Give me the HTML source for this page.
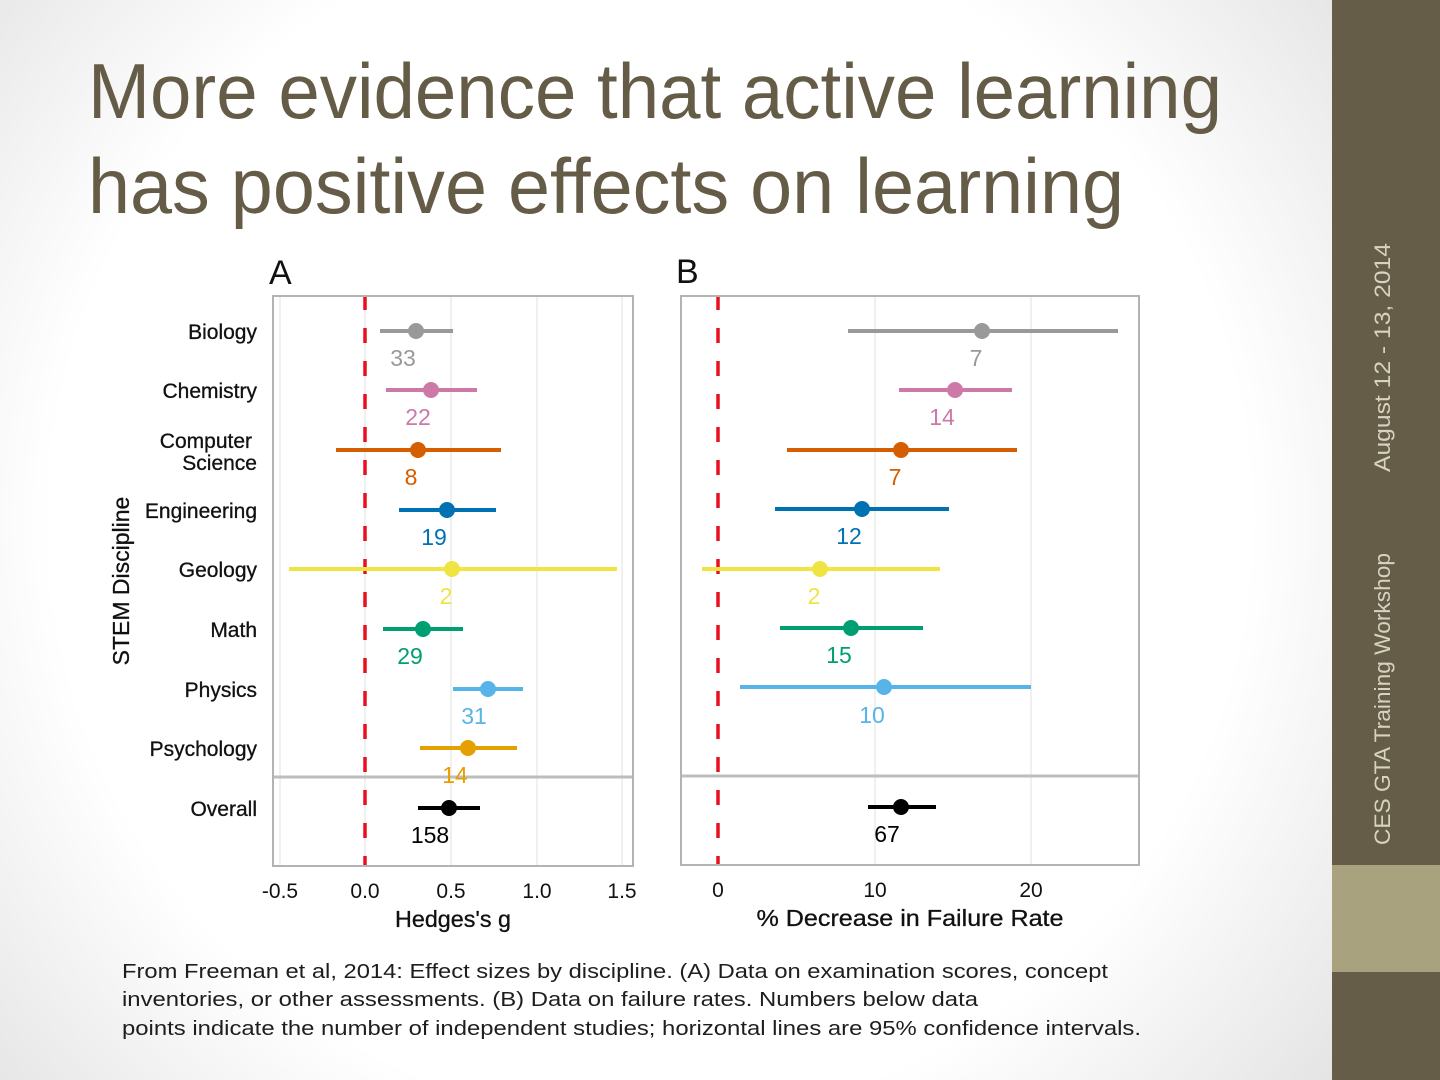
<!DOCTYPE html>
<html><head><meta charset="utf-8"><style>
html,body{margin:0;padding:0;width:1440px;height:1080px;overflow:hidden;}
svg{display:block}
</style></head><body>
<svg width="1440" height="1080" viewBox="0 0 1440 1080" xmlns="http://www.w3.org/2000/svg">
<defs>
<radialGradient id="bg" cx="650" cy="520" r="1000" gradientUnits="userSpaceOnUse">
<stop offset="0" stop-color="#ffffff"/>
<stop offset="0.6" stop-color="#ffffff"/>
<stop offset="1" stop-color="#d9d9d9"/>
</radialGradient>
</defs>
<rect width="1440" height="1080" fill="url(#bg)"/>
<!-- sidebar -->
<rect x="1332" y="0" width="108" height="1080" fill="#655d48"/>
<rect x="1332" y="865" width="108" height="107" fill="#a8a37e"/>
<g font-family="Liberation Sans, sans-serif" font-size="22" fill="#d8d3c0">
<text transform="translate(1390,472) rotate(-90)" textLength="229" lengthAdjust="spacingAndGlyphs">August 12 - 13, 2014</text>
<text transform="translate(1390,845) rotate(-90)" textLength="292" lengthAdjust="spacingAndGlyphs">CES GTA Training Workshop</text>
</g>
<!-- title -->
<g font-family="Liberation Sans, sans-serif" font-size="78" fill="#655c47">
<text x="88" y="118" textLength="1134" lengthAdjust="spacingAndGlyphs">More evidence that active learning</text>
<text x="88" y="213" textLength="1036" lengthAdjust="spacingAndGlyphs">has positive effects on learning</text>
</g>
<g font-family="Liberation Sans, sans-serif" fill="#111">
<text x="269" y="284" font-size="34">A</text>
<text x="676" y="283" font-size="34">B</text>
</g>
<!-- Panel A -->
<g>
<rect x="273" y="296" width="360" height="570" fill="#fff"/>
<g stroke="#ebebeb" stroke-width="1.5">
<line x1="280" y1="297" x2="280" y2="865"/>
<line x1="365" y1="297" x2="365" y2="865"/>
<line x1="451" y1="297" x2="451" y2="865"/>
<line x1="537" y1="297" x2="537" y2="865"/>
<line x1="622" y1="297" x2="622" y2="865"/>
</g>
<line x1="273" y1="777" x2="633" y2="777" stroke="#bdbdbd" stroke-width="3"/>
<line x1="365" y1="295" x2="365" y2="866" stroke="#e8101f" stroke-width="3.5" stroke-dasharray="15 18"/>
<g stroke-width="4" stroke-linecap="butt">
<line x1="380" y1="331" x2="453" y2="331" stroke="#999999"/>
<line x1="386" y1="390" x2="477" y2="390" stroke="#cc79a7"/>
<line x1="336" y1="450" x2="501" y2="450" stroke="#d55e00"/>
<line x1="399" y1="510" x2="496" y2="510" stroke="#0072b2"/>
<line x1="289" y1="569" x2="617" y2="569" stroke="#f0e442"/>
<line x1="383" y1="629" x2="463" y2="629" stroke="#009e73"/>
<line x1="453" y1="689" x2="523" y2="689" stroke="#56b4e9"/>
<line x1="420" y1="748" x2="517" y2="748" stroke="#e69f00"/>
<line x1="418" y1="808" x2="480" y2="808" stroke="#000000"/>
</g>
<g>
<circle cx="416" cy="331" r="8" fill="#999999"/>
<circle cx="431" cy="390" r="8" fill="#cc79a7"/>
<circle cx="418" cy="450" r="8" fill="#d55e00"/>
<circle cx="447" cy="510" r="8" fill="#0072b2"/>
<circle cx="452" cy="569" r="8" fill="#f0e442"/>
<circle cx="423" cy="629" r="8" fill="#009e73"/>
<circle cx="488" cy="689" r="8" fill="#56b4e9"/>
<circle cx="468" cy="748" r="8" fill="#e69f00"/>
<circle cx="449" cy="808" r="8" fill="#000000"/>
</g>
<g font-family="Liberation Sans, sans-serif" font-size="23" text-anchor="middle">
<text x="403" y="366" fill="#999999">33</text>
<text x="418" y="425" fill="#cc79a7">22</text>
<text x="411" y="485" fill="#d55e00">8</text>
<text x="434" y="545" fill="#0072b2">19</text>
<text x="446" y="604" fill="#f0e442">2</text>
<text x="410" y="664" fill="#009e73">29</text>
<text x="474" y="724" fill="#56b4e9">31</text>
<text x="455" y="783" fill="#e69f00">14</text>
<text x="430" y="843" fill="#000000">158</text>
</g>
<rect x="273" y="296" width="360" height="570" fill="none" stroke="#b3b3b3" stroke-width="2"/>
</g>
<!-- Panel B -->
<g>
<rect x="681" y="296" width="458" height="569" fill="#fff"/>
<g stroke="#ebebeb" stroke-width="1.5">
<line x1="875" y1="297" x2="875" y2="864"/>
<line x1="1031" y1="297" x2="1031" y2="864"/>
</g>
<line x1="681" y1="776" x2="1139" y2="776" stroke="#bdbdbd" stroke-width="3"/>
<line x1="718" y1="295" x2="718" y2="865" stroke="#e8101f" stroke-width="3.5" stroke-dasharray="15 18"/>
<g stroke-width="4">
<line x1="848" y1="331" x2="1118" y2="331" stroke="#999999"/>
<line x1="899" y1="390" x2="1012" y2="390" stroke="#cc79a7"/>
<line x1="787" y1="450" x2="1017" y2="450" stroke="#d55e00"/>
<line x1="775" y1="509" x2="949" y2="509" stroke="#0072b2"/>
<line x1="702" y1="569" x2="940" y2="569" stroke="#f0e442"/>
<line x1="780" y1="628" x2="923" y2="628" stroke="#009e73"/>
<line x1="740" y1="687" x2="1031" y2="687" stroke="#56b4e9"/>
<line x1="868" y1="807" x2="936" y2="807" stroke="#000000"/>
</g>
<g>
<circle cx="982" cy="331" r="8" fill="#999999"/>
<circle cx="955" cy="390" r="8" fill="#cc79a7"/>
<circle cx="901" cy="450" r="8" fill="#d55e00"/>
<circle cx="862" cy="509" r="8" fill="#0072b2"/>
<circle cx="820" cy="569" r="8" fill="#f0e442"/>
<circle cx="851" cy="628" r="8" fill="#009e73"/>
<circle cx="884" cy="687" r="8" fill="#56b4e9"/>
<circle cx="901" cy="807" r="8" fill="#000000"/>
</g>
<g font-family="Liberation Sans, sans-serif" font-size="23" text-anchor="middle">
<text x="976" y="366" fill="#999999">7</text>
<text x="942" y="425" fill="#cc79a7">14</text>
<text x="895" y="485" fill="#d55e00">7</text>
<text x="849" y="544" fill="#0072b2">12</text>
<text x="814" y="604" fill="#f0e442">2</text>
<text x="839" y="663" fill="#009e73">15</text>
<text x="872" y="723" fill="#56b4e9">10</text>
<text x="887" y="842" fill="#000000">67</text>
</g>
<rect x="681" y="296" width="458" height="569" fill="none" stroke="#b3b3b3" stroke-width="2"/>
</g>
<!-- y labels -->
<g font-family="Liberation Sans, sans-serif" font-size="21" fill="#111" text-anchor="end" stroke="#111" stroke-width="0.3">
<text x="257" y="339">Biology</text>
<text x="257" y="398">Chemistry</text>
<text x="252" y="448">Computer</text>
<text x="257" y="470">Science</text>
<text x="257" y="518">Engineering</text>
<text x="257" y="577">Geology</text>
<text x="257" y="637">Math</text>
<text x="257" y="697">Physics</text>
<text x="257" y="756">Psychology</text>
<text x="257" y="816">Overall</text>
</g>
<text transform="translate(129,581) rotate(-90)" font-family="Liberation Sans, sans-serif" font-size="23" fill="#111" stroke="#111" stroke-width="0.3" text-anchor="middle">STEM Discipline</text>
<!-- x tick labels -->
<g font-family="Liberation Sans, sans-serif" font-size="21" fill="#111" text-anchor="middle">
<text x="280" y="898">-0.5</text>
<text x="365" y="898">0.0</text>
<text x="451" y="898">0.5</text>
<text x="537" y="898">1.0</text>
<text x="622" y="898">1.5</text>
<text x="718" y="897">0</text>
<text x="875" y="897">10</text>
<text x="1031" y="897">20</text>
</g>
<g font-family="Liberation Sans, sans-serif" font-size="23" fill="#111" text-anchor="middle" stroke="#111" stroke-width="0.3">
<text x="453" y="927" textLength="116" lengthAdjust="spacingAndGlyphs">Hedges's g</text>
<text x="910" y="926" textLength="307" lengthAdjust="spacingAndGlyphs">% Decrease in Failure Rate</text>
</g>
<!-- caption -->
<g font-family="Liberation Sans, sans-serif" font-size="20" fill="#1e1e1e">
<text x="122" y="978" textLength="986" lengthAdjust="spacingAndGlyphs">From Freeman et al, 2014: Effect sizes by discipline. (A) Data on examination scores, concept</text>
<text x="122" y="1006" textLength="856" lengthAdjust="spacingAndGlyphs">inventories, or other assessments. (B) Data on failure rates. Numbers below data</text>
<text x="122" y="1035" textLength="1019" lengthAdjust="spacingAndGlyphs">points indicate the number of independent studies; horizontal lines are 95% confidence intervals.</text>
</g>
</svg>
</body></html>
